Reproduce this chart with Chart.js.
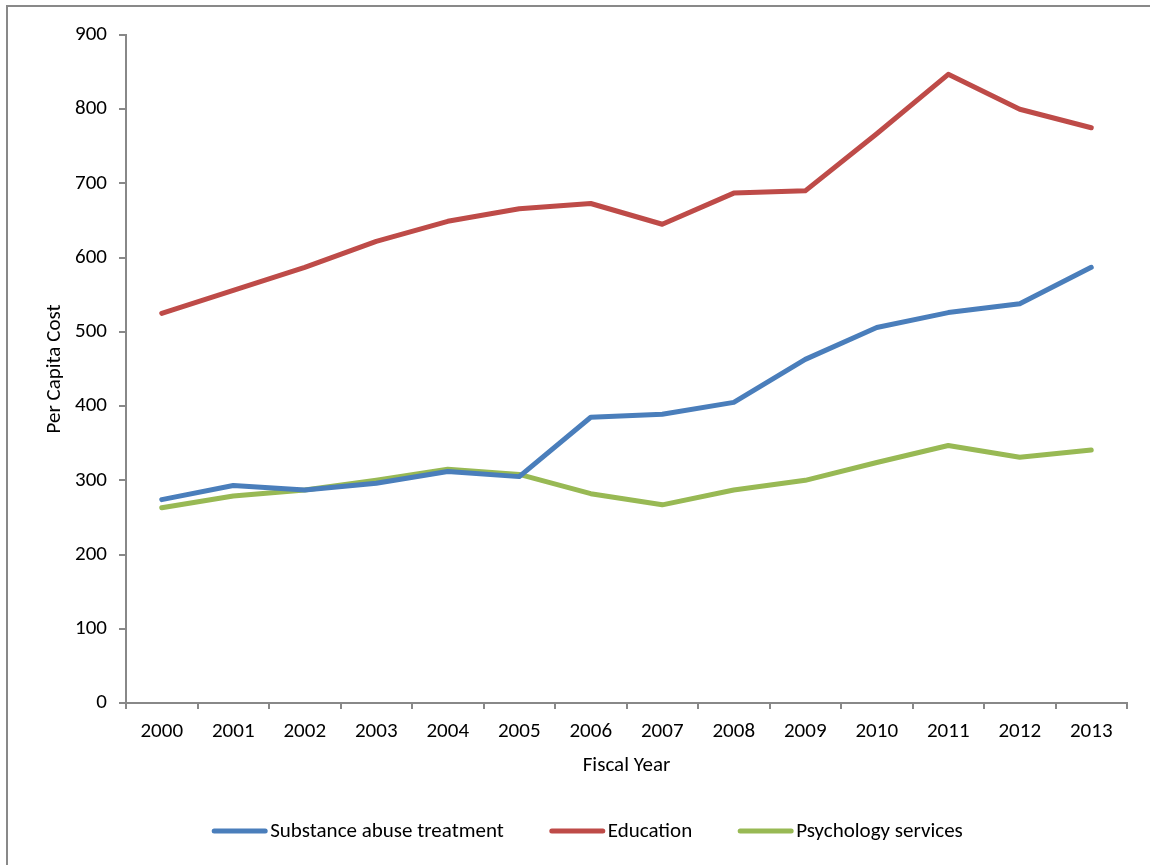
<!DOCTYPE html>
<html lang="en">
<head>
  <meta charset="UTF-8">
  <title>Per Capita Cost by Fiscal Year</title>
  <script src="https://cdn.jsdelivr.net/npm/chart.js@4.4.0/dist/chart.umd.min.js"></script>
  <style>
    body { margin: 0; background: #fff; }
    canvas { display: block; }
  </style>
</head>
<body>
  <canvas id="costChart" width="1150" height="865"></canvas>
  <script>
    // Fiscal years and per capita cost for each program
    const years = ["2000", "2001", "2002", "2003", "2004", "2005", "2006",
                   "2007", "2008", "2009", "2010", "2011", "2012", "2013"];
    const substanceAbuse = [274, 293, 287, 296, 312, 305, 385, 389, 405, 463, 506, 526, 538, 587];
    const education = [525, 556, 587, 622, 649, 666, 673, 645, 687, 690, 767, 847, 800, 775];
    const psychology = [263, 279, 287, 300, 315, 308, 282, 267, 287, 300, 324, 347, 331, 341];
    const costTicks = [0, 100, 200, 300, 400, 500, 600, 700, 800, 900];

    const FONT = "Carlito, Lato, 'Open Sans', sans-serif";
    const FONT_SIZE = 21;
    const AXIS_GREY = "#888888";

    // Grey outer frame
    const framePlugin = {
      id: "frame",
      beforeDraw(chart) {
        const ctx = chart.ctx;
        ctx.save();
        ctx.strokeStyle = "#898989";
        ctx.lineWidth = 2;
        ctx.strokeRect(7, 6, 1160, 880);
        ctx.restore();
      }
    };

    // Legend row under the x axis: short thick line + label
    const lineLegend = {
      id: "lineLegend",
      afterDraw(chart) {
        const ctx = chart.ctx;
        const sets = chart.data.datasets;
        const lineW = 55, gap = 3, spacing = 46, y = 831;
        ctx.save();
        ctx.font = FONT_SIZE + "px " + FONT;
        const widths = sets.map(ds => ctx.measureText(ds.label).width);
        let total = spacing * (sets.length - 1);
        widths.forEach(w => { total += lineW + gap + w; });
        let x = 587.5 - total / 2;
        sets.forEach((ds, i) => {
          ctx.strokeStyle = ds.borderColor;
          ctx.lineWidth = 5;
          ctx.lineCap = "round";
          ctx.beginPath();
          ctx.moveTo(x + 2, y);
          ctx.lineTo(x + lineW - 2, y);
          ctx.stroke();
          ctx.fillStyle = "#000";
          ctx.textBaseline = "middle";
          ctx.textAlign = "left";
          ctx.fillText(ds.label, x + lineW + gap, y + 1);
          x += lineW + gap + widths[i] + spacing;
        });
        ctx.restore();
      }
    };

    function series(label, data, color) {
      return {
        label: label,
        data: data,
        borderColor: color,
        backgroundColor: color,
        borderWidth: 5,
        borderJoinStyle: "round",
        borderCapStyle: "round",
        pointRadius: 0,
        tension: 0,
        fill: false
      };
    }

    new Chart(document.getElementById("costChart"), {
      type: "line",
      data: {
        labels: years,
        datasets: [
          series("Substance abuse treatment", substanceAbuse, "#4A7EBB"),
          series("Education", education, "#BE4B48"),
          series("Psychology services", psychology, "#98B954")
        ]
      },
      plugins: [framePlugin, lineLegend],
      options: {
        responsive: false,
        animation: false,
        layout: { padding: { left: 42, top: 35, right: 23, bottom: 87 } },
        plugins: {
          legend: { display: false },
          tooltip: { enabled: false }
        },
        scales: {
          x: {
            type: "category",
            offset: true,
            afterFit(scale) { scale.height = 75; },
            grid: {
              offset: true,
              drawOnChartArea: false,
              drawTicks: true,
              tickLength: 6,
              color: AXIS_GREY,
              lineWidth: 2
            },
            border: { display: true, color: AXIS_GREY, width: 2 },
            ticks: {
              color: "#000",
              padding: 10,
              maxRotation: 0,
              autoSkip: false,
              font: { family: FONT, size: FONT_SIZE }
            },
            title: {
              display: true,
              text: "Fiscal Year",
              color: "#000",
              padding: 0,
              font: { family: FONT, size: FONT_SIZE }
            }
          },
          y: {
            min: 0,
            max: 900,
            afterFit(scale) { scale.width = 84; },
            afterBuildTicks(scale) {
              scale.ticks = costTicks.map(v => ({ value: v }));
            },
            grid: {
              drawOnChartArea: false,
              drawTicks: true,
              tickLength: 7,
              color: AXIS_GREY,
              lineWidth: 2
            },
            border: { display: true, color: AXIS_GREY, width: 2 },
            ticks: {
              color: "#000",
              padding: 12,
              font: { family: FONT, size: FONT_SIZE }
            },
            title: {
              display: true,
              text: "Per Capita Cost",
              color: "#000",
              padding: 0,
              font: { family: FONT, size: FONT_SIZE }
            }
          }
        }
      }
    });
  </script>
</body>
</html>
